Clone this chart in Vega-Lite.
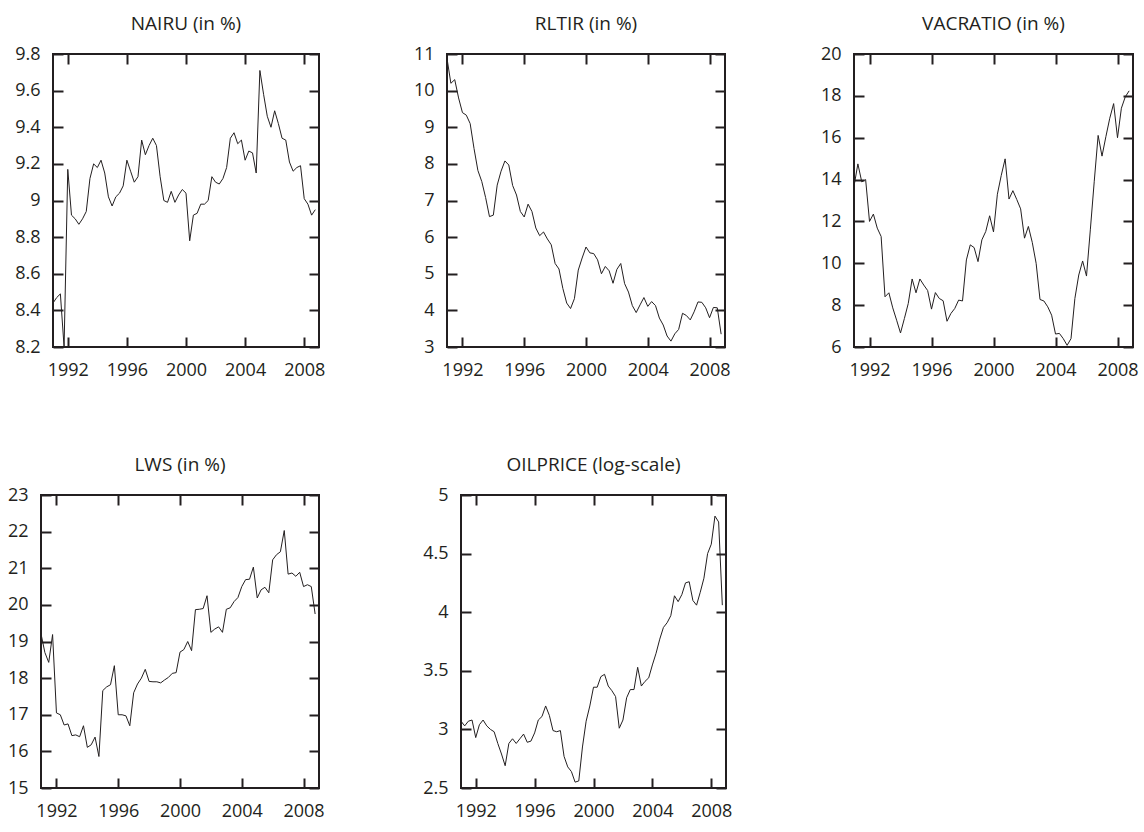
{
  "$schema": "https://vega.github.io/schema/vega-lite/v6.json",
  "background": "white",
  "padding": {"left": 0, "top": 14, "right": 0, "bottom": 0},
  "data": {"values": [
    {"quarter": 1991, "NAIRU": 8.44, "RLTIR": 10.88, "VACRATIO": 13.68, "LWS": 19.21, "OILPRICE": 3.07},
    {"quarter": 1991.25, "NAIRU": 8.47, "RLTIR": 10.2, "VACRATIO": 14.75, "LWS": 18.7, "OILPRICE": 3.03},
    {"quarter": 1991.5, "NAIRU": 8.49, "RLTIR": 10.3, "VACRATIO": 13.89, "LWS": 18.43, "OILPRICE": 3.07},
    {"quarter": 1991.75, "NAIRU": 8.2, "RLTIR": 9.8, "VACRATIO": 14.0, "LWS": 19.19, "OILPRICE": 3.08},
    {"quarter": 1992, "NAIRU": 9.17, "RLTIR": 9.4, "VACRATIO": 12.0, "LWS": 17.05, "OILPRICE": 2.93},
    {"quarter": 1992.25, "NAIRU": 8.92, "RLTIR": 9.33, "VACRATIO": 12.35, "LWS": 17.0, "OILPRICE": 3.04},
    {"quarter": 1992.5, "NAIRU": 8.9, "RLTIR": 9.1, "VACRATIO": 11.68, "LWS": 16.72, "OILPRICE": 3.08},
    {"quarter": 1992.75, "NAIRU": 8.87, "RLTIR": 8.42, "VACRATIO": 11.28, "LWS": 16.75, "OILPRICE": 3.03},
    {"quarter": 1993, "NAIRU": 8.9, "RLTIR": 7.82, "VACRATIO": 8.4, "LWS": 16.43, "OILPRICE": 3.0},
    {"quarter": 1993.25, "NAIRU": 8.94, "RLTIR": 7.52, "VACRATIO": 8.59, "LWS": 16.45, "OILPRICE": 2.98},
    {"quarter": 1993.5, "NAIRU": 9.12, "RLTIR": 7.08, "VACRATIO": 7.87, "LWS": 16.4, "OILPRICE": 2.88},
    {"quarter": 1993.75, "NAIRU": 9.2, "RLTIR": 6.56, "VACRATIO": 7.28, "LWS": 16.7, "OILPRICE": 2.79},
    {"quarter": 1994, "NAIRU": 9.18, "RLTIR": 6.6, "VACRATIO": 6.67, "LWS": 16.11, "OILPRICE": 2.69},
    {"quarter": 1994.25, "NAIRU": 9.22, "RLTIR": 7.42, "VACRATIO": 7.36, "LWS": 16.18, "OILPRICE": 2.88},
    {"quarter": 1994.5, "NAIRU": 9.15, "RLTIR": 7.8, "VACRATIO": 8.08, "LWS": 16.39, "OILPRICE": 2.92},
    {"quarter": 1994.75, "NAIRU": 9.02, "RLTIR": 8.08, "VACRATIO": 9.25, "LWS": 15.86, "OILPRICE": 2.88},
    {"quarter": 1995, "NAIRU": 8.97, "RLTIR": 7.97, "VACRATIO": 8.59, "LWS": 17.66, "OILPRICE": 2.92},
    {"quarter": 1995.25, "NAIRU": 9.02, "RLTIR": 7.41, "VACRATIO": 9.25, "LWS": 17.76, "OILPRICE": 2.96},
    {"quarter": 1995.5, "NAIRU": 9.04, "RLTIR": 7.15, "VACRATIO": 8.96, "LWS": 17.82, "OILPRICE": 2.89},
    {"quarter": 1995.75, "NAIRU": 9.08, "RLTIR": 6.7, "VACRATIO": 8.7, "LWS": 18.34, "OILPRICE": 2.9},
    {"quarter": 1996, "NAIRU": 9.22, "RLTIR": 6.55, "VACRATIO": 7.81, "LWS": 17.0, "OILPRICE": 2.97},
    {"quarter": 1996.25, "NAIRU": 9.16, "RLTIR": 6.9, "VACRATIO": 8.6, "LWS": 17.0, "OILPRICE": 3.08},
    {"quarter": 1996.5, "NAIRU": 9.1, "RLTIR": 6.7, "VACRATIO": 8.32, "LWS": 16.97, "OILPRICE": 3.11},
    {"quarter": 1996.75, "NAIRU": 9.13, "RLTIR": 6.25, "VACRATIO": 8.21, "LWS": 16.7, "OILPRICE": 3.2},
    {"quarter": 1997, "NAIRU": 9.33, "RLTIR": 6.04, "VACRATIO": 7.23, "LWS": 17.6, "OILPRICE": 3.12},
    {"quarter": 1997.25, "NAIRU": 9.25, "RLTIR": 6.14, "VACRATIO": 7.6, "LWS": 17.84, "OILPRICE": 2.99},
    {"quarter": 1997.5, "NAIRU": 9.3, "RLTIR": 5.95, "VACRATIO": 7.84, "LWS": 18.0, "OILPRICE": 2.98},
    {"quarter": 1997.75, "NAIRU": 9.34, "RLTIR": 5.79, "VACRATIO": 8.24, "LWS": 18.24, "OILPRICE": 2.99},
    {"quarter": 1998, "NAIRU": 9.3, "RLTIR": 5.28, "VACRATIO": 8.2, "LWS": 17.91, "OILPRICE": 2.77},
    {"quarter": 1998.25, "NAIRU": 9.13, "RLTIR": 5.13, "VACRATIO": 10.16, "LWS": 17.9, "OILPRICE": 2.68},
    {"quarter": 1998.5, "NAIRU": 9.0, "RLTIR": 4.6, "VACRATIO": 10.88, "LWS": 17.9, "OILPRICE": 2.64},
    {"quarter": 1998.75, "NAIRU": 8.99, "RLTIR": 4.2, "VACRATIO": 10.75, "LWS": 17.87, "OILPRICE": 2.55},
    {"quarter": 1999, "NAIRU": 9.05, "RLTIR": 4.05, "VACRATIO": 10.08, "LWS": 17.95, "OILPRICE": 2.56},
    {"quarter": 1999.25, "NAIRU": 8.99, "RLTIR": 4.32, "VACRATIO": 11.12, "LWS": 18.02, "OILPRICE": 2.85},
    {"quarter": 1999.5, "NAIRU": 9.03, "RLTIR": 5.1, "VACRATIO": 11.52, "LWS": 18.13, "OILPRICE": 3.07},
    {"quarter": 1999.75, "NAIRU": 9.06, "RLTIR": 5.43, "VACRATIO": 12.27, "LWS": 18.15, "OILPRICE": 3.2},
    {"quarter": 2000, "NAIRU": 9.04, "RLTIR": 5.73, "VACRATIO": 11.5, "LWS": 18.71, "OILPRICE": 3.36},
    {"quarter": 2000.25, "NAIRU": 8.78, "RLTIR": 5.57, "VACRATIO": 13.3, "LWS": 18.78, "OILPRICE": 3.36},
    {"quarter": 2000.5, "NAIRU": 8.92, "RLTIR": 5.55, "VACRATIO": 14.2, "LWS": 19.0, "OILPRICE": 3.45},
    {"quarter": 2000.75, "NAIRU": 8.93, "RLTIR": 5.38, "VACRATIO": 14.99, "LWS": 18.75, "OILPRICE": 3.47},
    {"quarter": 2001, "NAIRU": 8.98, "RLTIR": 5.0, "VACRATIO": 13.07, "LWS": 19.87, "OILPRICE": 3.37},
    {"quarter": 2001.25, "NAIRU": 8.98, "RLTIR": 5.2, "VACRATIO": 13.47, "LWS": 19.88, "OILPRICE": 3.33},
    {"quarter": 2001.5, "NAIRU": 9.0, "RLTIR": 5.08, "VACRATIO": 13.05, "LWS": 19.9, "OILPRICE": 3.28},
    {"quarter": 2001.75, "NAIRU": 9.13, "RLTIR": 4.74, "VACRATIO": 12.6, "LWS": 20.25, "OILPRICE": 3.01},
    {"quarter": 2002, "NAIRU": 9.1, "RLTIR": 5.12, "VACRATIO": 11.2, "LWS": 19.25, "OILPRICE": 3.08},
    {"quarter": 2002.25, "NAIRU": 9.09, "RLTIR": 5.28, "VACRATIO": 11.76, "LWS": 19.34, "OILPRICE": 3.27},
    {"quarter": 2002.5, "NAIRU": 9.12, "RLTIR": 4.73, "VACRATIO": 11.0, "LWS": 19.4, "OILPRICE": 3.34},
    {"quarter": 2002.75, "NAIRU": 9.18, "RLTIR": 4.5, "VACRATIO": 10.0, "LWS": 19.25, "OILPRICE": 3.34},
    {"quarter": 2003, "NAIRU": 9.34, "RLTIR": 4.13, "VACRATIO": 8.27, "LWS": 19.88, "OILPRICE": 3.53},
    {"quarter": 2003.25, "NAIRU": 9.37, "RLTIR": 3.94, "VACRATIO": 8.2, "LWS": 19.92, "OILPRICE": 3.37},
    {"quarter": 2003.5, "NAIRU": 9.31, "RLTIR": 4.15, "VACRATIO": 7.92, "LWS": 20.09, "OILPRICE": 3.41},
    {"quarter": 2003.75, "NAIRU": 9.33, "RLTIR": 4.35, "VACRATIO": 7.52, "LWS": 20.2, "OILPRICE": 3.44},
    {"quarter": 2004, "NAIRU": 9.22, "RLTIR": 4.11, "VACRATIO": 6.62, "LWS": 20.5, "OILPRICE": 3.55},
    {"quarter": 2004.25, "NAIRU": 9.27, "RLTIR": 4.24, "VACRATIO": 6.65, "LWS": 20.69, "OILPRICE": 3.65},
    {"quarter": 2004.5, "NAIRU": 9.26, "RLTIR": 4.13, "VACRATIO": 6.4, "LWS": 20.7, "OILPRICE": 3.77},
    {"quarter": 2004.75, "NAIRU": 9.15, "RLTIR": 3.79, "VACRATIO": 6.08, "LWS": 21.03, "OILPRICE": 3.87},
    {"quarter": 2005, "NAIRU": 9.71, "RLTIR": 3.6, "VACRATIO": 6.4, "LWS": 20.19, "OILPRICE": 3.91},
    {"quarter": 2005.25, "NAIRU": 9.58, "RLTIR": 3.3, "VACRATIO": 8.32, "LWS": 20.41, "OILPRICE": 3.97},
    {"quarter": 2005.5, "NAIRU": 9.46, "RLTIR": 3.16, "VACRATIO": 9.44, "LWS": 20.48, "OILPRICE": 4.14},
    {"quarter": 2005.75, "NAIRU": 9.4, "RLTIR": 3.36, "VACRATIO": 10.11, "LWS": 20.33, "OILPRICE": 4.09},
    {"quarter": 2006, "NAIRU": 9.49, "RLTIR": 3.48, "VACRATIO": 9.39, "LWS": 21.23, "OILPRICE": 4.15},
    {"quarter": 2006.25, "NAIRU": 9.42, "RLTIR": 3.92, "VACRATIO": 11.63, "LWS": 21.37, "OILPRICE": 4.25},
    {"quarter": 2006.5, "NAIRU": 9.34, "RLTIR": 3.86, "VACRATIO": 13.92, "LWS": 21.45, "OILPRICE": 4.26},
    {"quarter": 2006.75, "NAIRU": 9.33, "RLTIR": 3.74, "VACRATIO": 16.11, "LWS": 22.03, "OILPRICE": 4.1},
    {"quarter": 2007, "NAIRU": 9.21, "RLTIR": 3.96, "VACRATIO": 15.12, "LWS": 20.84, "OILPRICE": 4.06},
    {"quarter": 2007.25, "NAIRU": 9.16, "RLTIR": 4.23, "VACRATIO": 16.05, "LWS": 20.87, "OILPRICE": 4.17},
    {"quarter": 2007.5, "NAIRU": 9.18, "RLTIR": 4.22, "VACRATIO": 16.93, "LWS": 20.78, "OILPRICE": 4.29},
    {"quarter": 2007.75, "NAIRU": 9.19, "RLTIR": 4.07, "VACRATIO": 17.63, "LWS": 20.89, "OILPRICE": 4.5},
    {"quarter": 2008, "NAIRU": 9.01, "RLTIR": 3.8, "VACRATIO": 16.0, "LWS": 20.5, "OILPRICE": 4.58},
    {"quarter": 2008.25, "NAIRU": 8.98, "RLTIR": 4.08, "VACRATIO": 17.41, "LWS": 20.55, "OILPRICE": 4.82},
    {"quarter": 2008.5, "NAIRU": 8.92, "RLTIR": 4.07, "VACRATIO": 17.95, "LWS": 20.5, "OILPRICE": 4.77},
    {"quarter": 2008.75, "NAIRU": 8.95, "RLTIR": 3.35, "VACRATIO": 18.24, "LWS": 19.75, "OILPRICE": 4.06}
  ]},
  "spacing": 75,
  "vconcat": [
    {
      "spacing": 60,
      "hconcat": [
        {
          "spacing": 0,
          "hconcat": [
            {"width": 1, "height": 1, "data": {"values": []}, "mark": {"type": "point", "opacity": 0}, "encoding": {}, "view": {"stroke": null, "fill": "white"}},
            {
              "width": 266, "height": 293, "title": "NAIRU (in %)",
              "layer": [
                {"mark": {"type": "line", "color": "#231f20", "strokeWidth": 1, "clip": true},
                 "encoding": {
                   "x": {"field": "quarter", "type": "quantitative", "title": null, "scale": {"domain": [1991, 2009], "nice": false, "zero": false}, "axis": {"orient": "bottom", "values": [1992, 1996, 2000, 2004, 2008], "format": "d", "labelPadding": 24}},
                   "y": {"field": "NAIRU", "type": "quantitative", "title": null, "scale": {"domain": [8.2, 9.8], "nice": false, "zero": false}, "axis": {"orient": "left", "values": [8.2, 8.4, 8.6, 8.8, 9, 9.2, 9.4, 9.6, 9.8], "format": ".1~f", "labelPadding": 23, "minExtent": 51}}
                 }},
                {"mark": {"type": "line", "opacity": 0},
                 "encoding": {
                   "x": {"field": "quarter", "type": "quantitative", "title": null, "axis": {"orient": "top", "values": [1992, 1996, 2000, 2004, 2008], "labels": false, "minExtent": 0}},
                   "y": {"field": "NAIRU", "type": "quantitative", "title": null, "axis": {"orient": "right", "values": [8.2, 8.4, 8.6, 8.8, 9, 9.2, 9.4, 9.6, 9.8], "labels": false, "minExtent": 0}}
                 }}
              ],
              "resolve": {"axis": {"x": "independent", "y": "independent"}}
            }
          ]
        },
        {
          "width": 278, "height": 293, "title": "RLTIR (in %)",
          "layer": [
            {"mark": {"type": "line", "color": "#231f20", "strokeWidth": 1, "clip": true},
             "encoding": {
               "x": {"field": "quarter", "type": "quantitative", "title": null, "scale": {"domain": [1991, 2009], "nice": false, "zero": false}, "axis": {"orient": "bottom", "values": [1992, 1996, 2000, 2004, 2008], "format": "d", "labelPadding": 24}},
               "y": {"field": "RLTIR", "type": "quantitative", "title": null, "scale": {"domain": [3, 11], "nice": false, "zero": false}, "axis": {"orient": "left", "values": [3, 4, 5, 6, 7, 8, 9, 10, 11], "format": "d", "labelPadding": 23, "minExtent": 60}}
             }},
            {"mark": {"type": "line", "opacity": 0},
             "encoding": {
               "x": {"field": "quarter", "type": "quantitative", "title": null, "axis": {"orient": "top", "values": [1992, 1996, 2000, 2004, 2008], "labels": false, "minExtent": 0}},
               "y": {"field": "RLTIR", "type": "quantitative", "title": null, "axis": {"orient": "right", "values": [3, 4, 5, 6, 7, 8, 9, 10, 11], "labels": false, "minExtent": 0}}
             }}
          ],
          "resolve": {"axis": {"x": "independent", "y": "independent"}}
        },
        {
          "width": 279, "height": 293, "title": "VACRATIO (in %)",
          "layer": [
            {"mark": {"type": "line", "color": "#231f20", "strokeWidth": 1, "clip": true},
             "encoding": {
               "x": {"field": "quarter", "type": "quantitative", "title": null, "scale": {"domain": [1991, 2009], "nice": false, "zero": false}, "axis": {"orient": "bottom", "values": [1992, 1996, 2000, 2004, 2008], "format": "d", "labelPadding": 24}},
               "y": {"field": "VACRATIO", "type": "quantitative", "title": null, "scale": {"domain": [6, 20], "nice": false, "zero": false}, "axis": {"orient": "left", "values": [6, 8, 10, 12, 14, 16, 18, 20], "format": "d", "labelPadding": 23, "minExtent": 61}}
             }},
            {"mark": {"type": "line", "opacity": 0},
             "encoding": {
               "x": {"field": "quarter", "type": "quantitative", "title": null, "axis": {"orient": "top", "values": [1992, 1996, 2000, 2004, 2008], "labels": false, "minExtent": 0}},
               "y": {"field": "VACRATIO", "type": "quantitative", "title": null, "axis": {"orient": "right", "values": [6, 8, 10, 12, 14, 16, 18, 20], "labels": false, "minExtent": 0}}
             }}
          ],
          "resolve": {"axis": {"x": "independent", "y": "independent"}}
        }
      ]
    },
    {
      "spacing": 60,
      "hconcat": [
        {
          "spacing": 0,
          "hconcat": [
            {"width": 1, "height": 1, "data": {"values": []}, "mark": {"type": "point", "opacity": 0}, "encoding": {}, "view": {"stroke": null, "fill": "white"}},
            {
              "width": 278, "height": 293, "title": "LWS (in %)",
              "layer": [
                {"mark": {"type": "line", "color": "#231f20", "strokeWidth": 1, "clip": true},
                 "encoding": {
                   "x": {"field": "quarter", "type": "quantitative", "title": null, "scale": {"domain": [1991, 2009], "nice": false, "zero": false}, "axis": {"orient": "bottom", "values": [1992, 1996, 2000, 2004, 2008], "format": "d", "labelPadding": 24}},
                   "y": {"field": "LWS", "type": "quantitative", "title": null, "scale": {"domain": [15, 23], "nice": false, "zero": false}, "axis": {"orient": "left", "values": [15, 16, 17, 18, 19, 20, 21, 22, 23], "format": "d", "labelPadding": 23, "minExtent": 39}}
                 }},
                {"mark": {"type": "line", "opacity": 0},
                 "encoding": {
                   "x": {"field": "quarter", "type": "quantitative", "title": null, "axis": {"orient": "top", "values": [1992, 1996, 2000, 2004, 2008], "labels": false, "minExtent": 0}},
                   "y": {"field": "LWS", "type": "quantitative", "title": null, "axis": {"orient": "right", "values": [15, 16, 17, 18, 19, 20, 21, 22, 23], "labels": false, "minExtent": 0}}
                 }}
              ],
              "resolve": {"axis": {"x": "independent", "y": "independent"}}
            }
          ]
        },
        {
          "width": 265, "height": 293, "title": "OILPRICE (log-scale)",
          "layer": [
            {"mark": {"type": "line", "color": "#231f20", "strokeWidth": 1, "clip": true},
             "encoding": {
               "x": {"field": "quarter", "type": "quantitative", "title": null, "scale": {"domain": [1991, 2009], "nice": false, "zero": false}, "axis": {"orient": "bottom", "values": [1992, 1996, 2000, 2004, 2008], "format": "d", "labelPadding": 24}},
               "y": {"field": "OILPRICE", "type": "quantitative", "title": null, "scale": {"domain": [2.5, 5], "nice": false, "zero": false}, "axis": {"orient": "left", "values": [2.5, 3, 3.5, 4, 4.5, 5], "format": ".1~f", "labelPadding": 23, "minExtent": 74}}
             }},
            {"mark": {"type": "line", "opacity": 0},
             "encoding": {
               "x": {"field": "quarter", "type": "quantitative", "title": null, "axis": {"orient": "top", "values": [1992, 1996, 2000, 2004, 2008], "labels": false, "minExtent": 0}},
               "y": {"field": "OILPRICE", "type": "quantitative", "title": null, "axis": {"orient": "right", "values": [2.5, 3, 3.5, 4, 4.5, 5], "labels": false, "minExtent": 0}}
             }}
          ],
          "resolve": {"axis": {"x": "independent", "y": "independent"}}
        }
      ]
    }
  ],
  "config": {
    "font": "Open Sans",
    "view": {"stroke": "#231f20", "strokeWidth": 2},
    "axis": {"grid": false, "domain": false, "ticks": true, "tickSize": -10, "tickWidth": 2, "tickColor": "#231f20", "labelFont": "Open Sans", "labelFontSize": 18, "labelColor": "#231f20", "labelFlush": false, "labelOverlap": false},
    "title": {"font": "Open Sans", "fontSize": 19, "fontWeight": "normal", "color": "#231f20", "anchor": "middle", "baseline": "alphabetic", "offset": 11}
  }
}
